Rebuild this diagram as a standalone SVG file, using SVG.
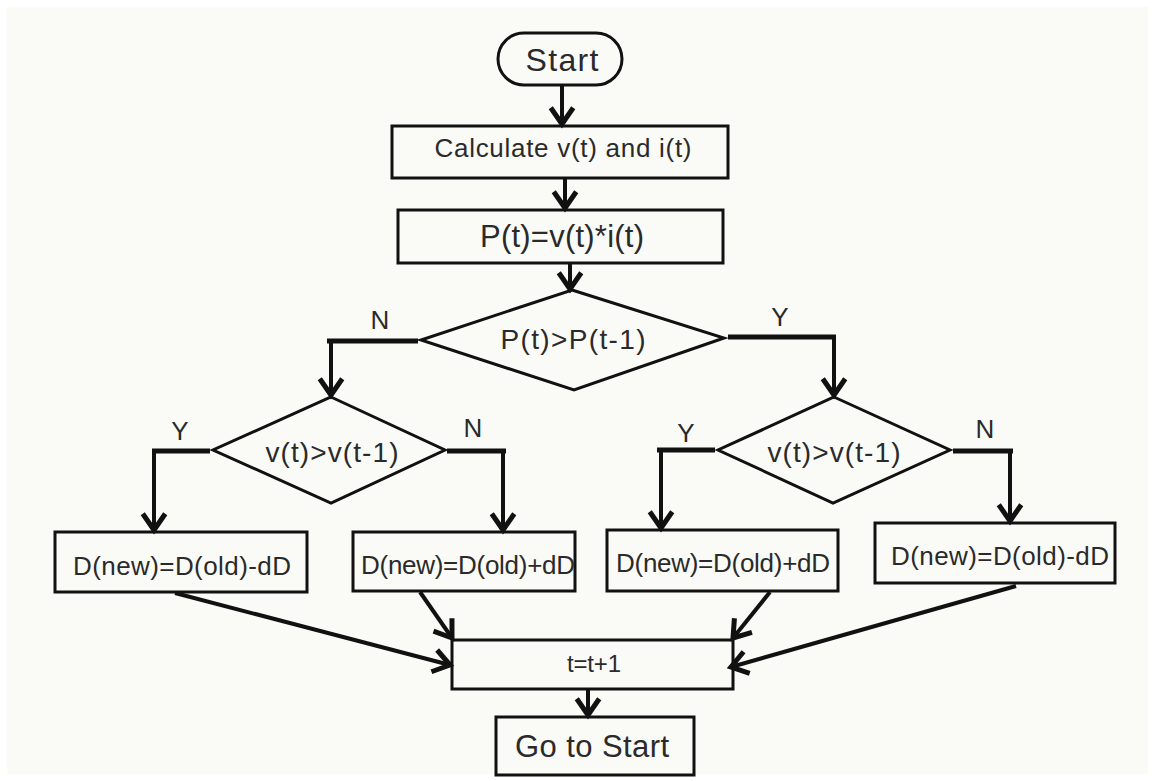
<svg xmlns="http://www.w3.org/2000/svg" width="1155" height="781" viewBox="0 0 1155 781">
<style>
.bg{fill:#fafbf7}
.box{fill:none;stroke:#111;stroke-width:3}
.br{fill:none;stroke:#111;stroke-width:5}
.ar{fill:none;stroke:#111;stroke-width:4}
.t{font-family:"Liberation Sans",Arial,sans-serif;fill:#2a2a2a;text-anchor:middle}
</style>
<defs>
<marker id="ah" markerUnits="userSpaceOnUse" markerWidth="30" markerHeight="30" viewBox="-16 -12 20 24" refX="0" refY="0" orient="auto">
<path d="M -13 -9 L 0 0 L -13 9" fill="none" stroke="#111" stroke-width="4"/>
</marker>
</defs>
<rect class="bg" x="0" y="0" width="1155" height="781"/>
<rect x="0" y="0" width="1155" height="781" fill="none" stroke="#ffffff" stroke-width="14"/>

<g id="start">
<rect class="box" x="498" y="33" width="124" height="52" rx="26" ry="26"/>
<text class="t" x="562" y="71" font-size="32" textLength="73" lengthAdjust="spacing">Start</text>
</g>
<g id="calc">
<rect class="box" x="392" y="126" width="336" height="52"/>
<text class="t" x="563" y="157" font-size="26" textLength="257" lengthAdjust="spacing">Calculate v(t) and i(t)</text>
</g>
<g id="power">
<rect class="box" x="398" y="210" width="325" height="53"/>
<text class="t" x="562" y="247" font-size="31" textLength="164" lengthAdjust="spacing">P(t)=v(t)*i(t)</text>
</g>
<g id="dec-p">
<polygon class="box" points="572,290 724,338 574,390 421,340"/>
<text class="t" x="573" y="349" font-size="28" textLength="145" lengthAdjust="spacing">P(t)&gt;P(t-1)</text>
</g>
<g id="dec-v-left">
<polygon class="box" points="331,397 445,450 331,503 213,450"/>
<text class="t" x="332" y="462" font-size="28" textLength="133" lengthAdjust="spacing">v(t)&gt;v(t-1)</text>
</g>
<g id="dec-v-right">
<polygon class="box" points="834,397 950,450 833,503 718,450"/>
<text class="t" x="834" y="462" font-size="28" textLength="133" lengthAdjust="spacing">v(t)&gt;v(t-1)</text>
</g>
<g id="box1">
<rect class="box" x="55" y="532" width="252" height="60"/>
<text class="t" x="182" y="575" font-size="26" textLength="218" lengthAdjust="spacing">D(new)=D(old)-dD</text>
</g>
<g id="box2">
<rect class="box" x="353" y="532" width="222" height="59"/>
<text class="t" x="468" y="574" font-size="26" textLength="214" lengthAdjust="spacing">D(new)=D(old)+dD</text>
</g>
<g id="box3">
<rect class="box" x="607" y="530" width="231" height="61"/>
<text class="t" x="723" y="572" font-size="26" textLength="214" lengthAdjust="spacing">D(new)=D(old)+dD</text>
</g>
<g id="box4">
<rect class="box" x="875" y="523" width="240" height="60"/>
<text class="t" x="1000" y="565" font-size="26" textLength="218" lengthAdjust="spacing">D(new)=D(old)-dD</text>
</g>
<g id="inc">
<rect class="box" x="452" y="640" width="281" height="49"/>
<text class="t" x="594" y="672" font-size="24" textLength="54" lengthAdjust="spacing">t=t+1</text>
</g>
<g id="goto">
<rect class="box" x="496" y="717" width="198" height="58"/>
<text class="t" x="592" y="757" font-size="31" textLength="154" lengthAdjust="spacing">Go to Start</text>
</g>

<g id="connectors">
<line class="ar" x1="562" y1="85" x2="562" y2="124" marker-end="url(#ah)"/>
<line class="ar" x1="565" y1="178" x2="565" y2="208" marker-end="url(#ah)"/>
<line class="ar" x1="570" y1="263" x2="570" y2="289" marker-end="url(#ah)"/>

<line class="br" x1="327" y1="341" x2="418" y2="341"/>
<line class="ar" x1="331" y1="343" x2="331" y2="395" marker-end="url(#ah)"/>
<line class="br" x1="728" y1="337" x2="836" y2="337"/>
<line class="ar" x1="834" y1="339" x2="834" y2="395" marker-end="url(#ah)"/>

<line class="br" x1="152" y1="451" x2="210" y2="451"/>
<line class="ar" x1="154" y1="453" x2="154" y2="530" marker-end="url(#ah)"/>
<line class="br" x1="447" y1="451" x2="506" y2="451"/>
<line class="ar" x1="503" y1="453" x2="503" y2="530" marker-end="url(#ah)"/>

<line class="br" x1="657" y1="450" x2="715" y2="450"/>
<line class="ar" x1="661" y1="452" x2="661" y2="528" marker-end="url(#ah)"/>
<line class="br" x1="953" y1="451" x2="1013" y2="451"/>
<line class="ar" x1="1010" y1="453" x2="1010" y2="521" marker-end="url(#ah)"/>

<line class="ar" x1="175" y1="593" x2="450" y2="665" marker-end="url(#ah)"/>
<line class="ar" x1="420" y1="592" x2="452" y2="638" marker-end="url(#ah)"/>
<line class="ar" x1="770" y1="592" x2="733" y2="638" marker-end="url(#ah)"/>
<line class="ar" x1="1016" y1="586" x2="731" y2="667" marker-end="url(#ah)"/>
<line class="ar" x1="588" y1="689" x2="588" y2="715" marker-end="url(#ah)"/>
</g>

<g id="labels">
<text class="t" x="380" y="329" font-size="26">N</text>
<text class="t" x="780" y="326" font-size="26">Y</text>
<text class="t" x="180" y="440" font-size="26">Y</text>
<text class="t" x="473" y="437" font-size="26">N</text>
<text class="t" x="686" y="442" font-size="26">Y</text>
<text class="t" x="985" y="438" font-size="26">N</text>
</g>
</svg>
